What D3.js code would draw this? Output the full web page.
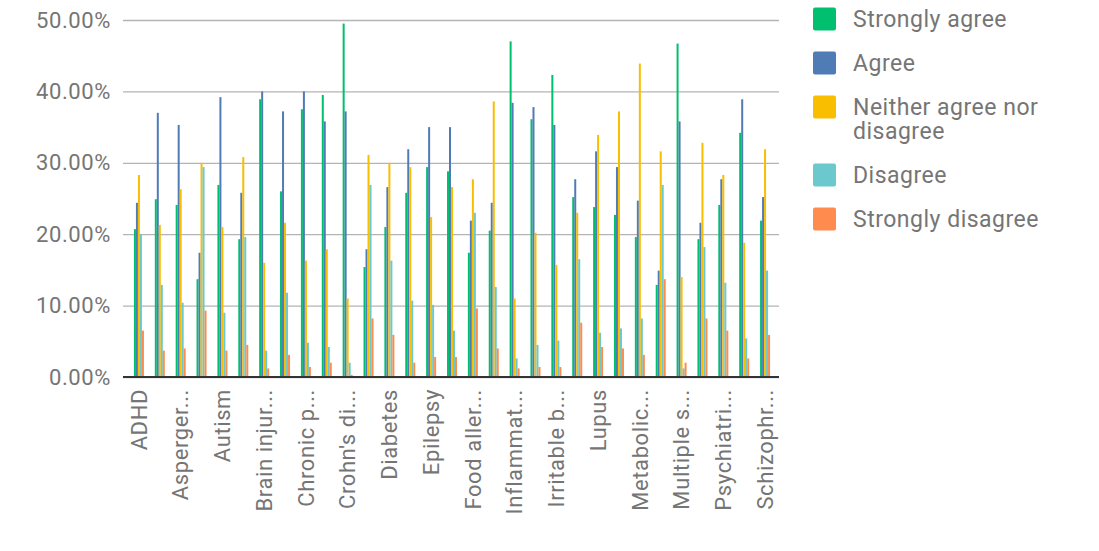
<!DOCTYPE html>
<html>
<head>
<meta charset="utf-8">
<script src="https://cdn.jsdelivr.net/npm/d3@7"></script>
<style>
  html, body { margin: 0; padding: 0; background: #fff; }
  svg { display: block; font-family: Roboto, "Noto Sans", sans-serif; }
</style>
</head>
<body>
<svg id="chart" width="1099" height="551"></svg>
<script>
const categories = [
  "ADHD", "Anxiety", "Asperger's syndrome", "Asthma", "Autism", "Bipolar disorder",
  "Brain injury", "Cancer", "Chronic pain", "Coeliac disease", "Crohn's disease", "Depression",
  "Diabetes", "Eczema", "Epilepsy", "Fibromyalgia", "Food allergies", "Heart disease",
  "Inflammatory bowel disease", "Insomnia", "Irritable bowel syndrome", "Kidney disease", "Lupus", "Lyme disease",
  "Metabolic disorders", "Migraine", "Multiple sclerosis", "Parkinson's disease", "Psychiatric disorders", "Rheumatoid arthritis",
  "Schizophrenia"
];
const tickLabels = [
  "ADHD", "", "Asperger...", "", "Autism", "", "Brain injur...", "", "Chronic p...", "",
  "Crohn's di...", "", "Diabetes", "", "Epilepsy", "", "Food aller...", "", "Inflammat...", "",
  "Irritable b...", "", "Lupus", "", "Metabolic...", "", "Multiple s...", "", "Psychiatri...", "",
  "Schizophr..."
];
const seriesNames = ["Strongly agree", "Agree", "Neither agree nor disagree", "Disagree", "Strongly disagree"];
const seriesColors = ["#00bf6f", "#507cb6", "#f9be00", "#6bc8cd", "#ff8b4f"];

const stronglyAgree = [20.7, 24.9, 24.1, 13.7, 26.9, 19.3, 38.9, 26.0, 37.5, 39.5, 49.5, 15.4, 21.0, 25.8, 29.4, 28.8,
  17.4, 20.5, 47.0, 36.1, 42.3, 25.2, 23.8, 22.7, 19.6, 12.9, 46.7, 19.3, 24.1, 34.2, 21.9];
const agree = [24.4, 37.0, 35.3, 17.4, 39.2, 25.8, 40.0, 37.2, 40.0, 35.8, 37.2, 17.9, 26.6, 31.9, 35.0, 35.0,
  21.9, 24.4, 38.4, 37.8, 35.3, 27.7, 31.6, 29.4, 24.7, 14.9, 35.8, 21.6, 27.7, 38.9, 25.2];
const neither = [28.3, 21.3, 26.3, 30.0, 21.0, 30.8, 16.0, 21.6, 16.3, 17.9, 11.0, 31.1, 30.0, 29.4, 22.4, 26.6,
  27.7, 38.6, 11.0, 20.2, 15.7, 23.0, 33.9, 37.2, 43.9, 31.6, 14.0, 32.8, 28.3, 18.8, 31.9];
const disagree = [20.0, 12.9, 10.4, 29.4, 9.0, 19.6, 3.7, 11.8, 4.8, 4.2, 2.0, 26.9, 16.3, 10.7, 10.1, 6.5,
  23.0, 12.6, 2.6, 4.5, 5.1, 16.5, 6.2, 6.8, 8.2, 26.9, 1.2, 18.2, 13.2, 5.4, 14.9];
const stronglyDisagree = [6.5, 3.7, 4.0, 9.3, 3.7, 4.5, 1.2, 3.1, 1.4, 2.0, 0.3, 8.2, 5.9, 2.0, 2.8, 2.8,
  9.6, 4.0, 1.2, 1.4, 1.4, 7.6, 4.2, 4.0, 3.1, 13.7, 2.0, 8.2, 6.5, 2.6, 5.9];
const yTicks = [0, 10, 20, 30, 40, 50];

const allSeries = [stronglyAgree, agree, neither, disagree, stronglyDisagree];

(function () {
const svg = d3.select("#chart");
const plotLeft = 129, plotRight = 779, plotTop = 20, plotBottom = 377;
const textColor = "#757575";

const x0 = d3.scaleBand().domain(categories).range([128.5, 775.5]).padding(0);
const x1 = d3.scaleBand().domain(seriesNames).range([0, 10]).padding(0);
const y = d3.scaleLinear().domain([0, 50]).range([plotBottom, plotTop]);

// gridlines + y ticks
const yAxis = d3.axisLeft(y).tickValues(yTicks).tickSize(-(plotRight - plotLeft)).tickPadding(18)
  .tickFormat(d => d.toFixed(2) + "%");
const gy = svg.append("g").attr("transform", `translate(${plotLeft},0)`).call(yAxis);
gy.select(".domain").remove();
gy.selectAll(".tick line").attr("stroke", "#b4b4b4").attr("stroke-width", 1.3).attr("x1", -6);
gy.selectAll(".tick text").attr("fill", textColor).style("font-size", "22px")
  .style("letter-spacing", "0.6px")
  .style("font-family", "Roboto, sans-serif");

// bars
const groups = svg.append("g").selectAll("g").data(categories).join("g")
  .attr("transform", d => `translate(${x0(d) + (x0.bandwidth() - 10) / 2},0)`);
groups.selectAll("rect").data((d, i) => seriesNames.map((s, j) => ({ s, v: allSeries[j][i], c: seriesColors[j] })))
  .join("rect")
  .attr("x", d => x1(d.s))
  .attr("width", x1.bandwidth())
  .attr("y", d => y(d.v))
  .attr("height", d => y(0) - y(d.v))
  .attr("fill", d => d.c);

// baseline
svg.append("line").attr("x1", plotLeft - 6).attr("x2", plotRight).attr("y1", y(0)).attr("y2", y(0))
  .attr("stroke", "#333").attr("stroke-width", 2);

// x labels
const xAxis = d3.axisBottom(x0).tickSize(0).tickFormat((d, i) => tickLabels[i]);
const gx = svg.append("g").attr("transform", `translate(0,${plotBottom})`).call(xAxis);
gx.select(".domain").remove();
gx.selectAll(".tick text")
  .attr("fill", textColor).style("font-size", "22px").style("font-family", "Roboto, sans-serif")
  .style("letter-spacing", "0.6px")
  .attr("text-anchor", "end")
  .attr("transform", "rotate(-90)")
  .attr("x", -12).attr("y", 0).attr("dy", "0.35em");

// legend
const legendItems = [
  { lines: ["Strongly agree"], cy: 19 },
  { lines: ["Agree"], cy: 63 },
  { lines: ["Neither agree nor", "disagree"], cy: 107 },
  { lines: ["Disagree"], cy: 175 },
  { lines: ["Strongly disagree"], cy: 219 }
];
const lg = svg.append("g").selectAll("g").data(legendItems).join("g");
lg.append("rect").attr("x", 813).attr("y", d => d.cy - 11.5).attr("width", 23).attr("height", 23)
  .attr("rx", 2).attr("fill", (d, i) => seriesColors[i]);
lg.each(function (d) {
  const t = d3.select(this).append("text").attr("x", 853).attr("y", d.cy)
    .attr("fill", textColor).style("font-size", "23px").style("letter-spacing", "0.5px");
  d.lines.forEach((l, k) => t.append("tspan").attr("x", 853).attr("dy", k === 0 ? "0.35em" : "24px").text(l));
});
})();
</script>
</body>
</html>
